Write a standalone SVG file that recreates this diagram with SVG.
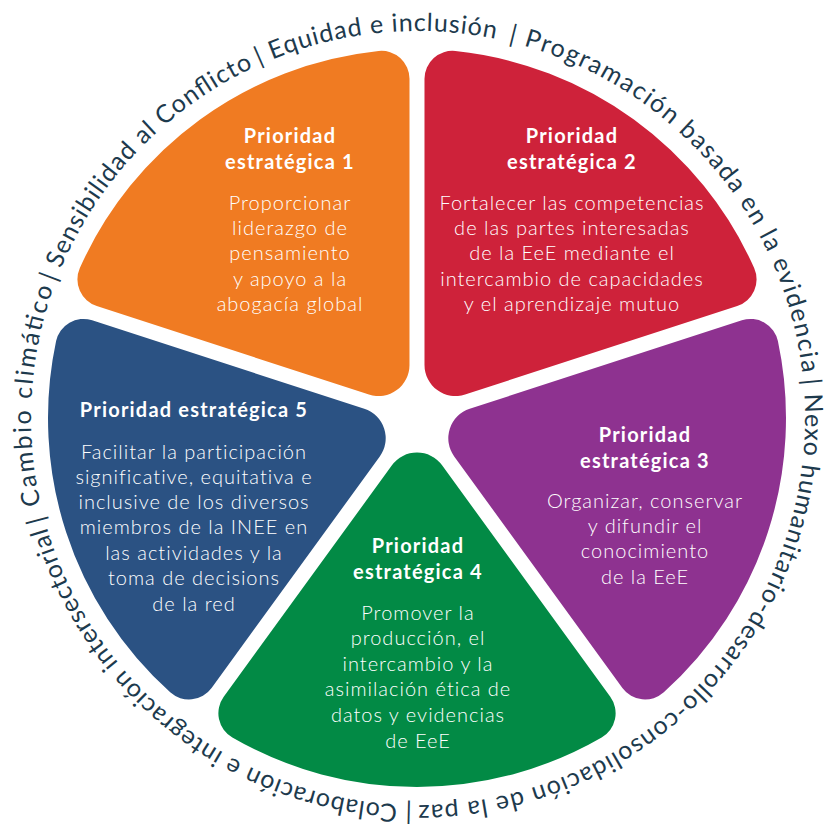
<svg xmlns="http://www.w3.org/2000/svg" xmlns:xlink="http://www.w3.org/1999/xlink" width="828" height="835" viewBox="0 0 828 835">
<defs>
<path id="seg" d="M391.92,370.72 L223.72,139.22 A28,28 0 0,1 232.36,98.52 A369,369 0 0,1 601.64,98.52 A28,28 0 0,1 610.28,139.22 L442.08,370.72 A31,31 0 0,1 391.92,370.72 Z"/>
<path id="ring" d="M501.76,40.17 A387,387 0 1,1 334.24,795.83 A387,387 0 1,1 501.76,40.17"/>
</defs>
<style>
.t{font-family:Lato,"Liberation Sans",sans-serif;fill:#fff;text-anchor:middle}
.h{font-size:20px;font-weight:700;letter-spacing:1.2px}
.b{font-size:20px;font-weight:300;letter-spacing:1px}
.r{font-family:Lato,"Liberation Sans",sans-serif;font-size:25px;fill:#1d3a4d}
</style>
<rect width="828" height="835" fill="#fff"/>
<g id="ring-labels">
<text class="r"><textPath xlink:href="#ring" href="#ring" startOffset="6.75" textLength="471.5" lengthAdjust="spacing">| Programación basada en la evidencia</textPath></text>
<text class="r"><textPath xlink:href="#ring" href="#ring" startOffset="484.3" textLength="646.4" lengthAdjust="spacing">| Nexo humanitario-desarrollo-consolidación de la paz</textPath></text>
<text class="r"><textPath xlink:href="#ring" href="#ring" startOffset="1136.8" textLength="491" lengthAdjust="spacing">| Colaboración e integración intersectorial</textPath></text>
<text class="r"><textPath xlink:href="#ring" href="#ring" startOffset="1633.9" textLength="237.1" lengthAdjust="spacing">| Cambio climático</textPath></text>
<text class="r"><textPath xlink:href="#ring" href="#ring" startOffset="1877" textLength="299.2" lengthAdjust="spacing">| Sensibilidad al Conflicto</textPath></text>
<text class="r"><textPath xlink:href="#ring" href="#ring" startOffset="2182.3" textLength="241.8" lengthAdjust="spacing">| Equidad e inclusión</textPath></text>
</g>
<g id="p1">
<use href="#seg" xlink:href="#seg" fill="#f07b22" transform="rotate(-36 417 418)"/>
<text class="t h" x="290" y="143">Prioridad</text>
<text class="t h" x="290" y="169">estratégica 1</text>
<text class="t b" x="290" y="210">Proporcionar</text>
<text class="t b" x="290" y="235">liderazgo de</text>
<text class="t b" x="290" y="260">pensamiento</text>
<text class="t b" x="290" y="286">y apoyo a la</text>
<text class="t b" x="290" y="311">abogacía global</text>
</g>
<g id="p2">
<use href="#seg" xlink:href="#seg" fill="#ce223a" transform="rotate(36 417 418)"/>
<text class="t h" x="572" y="143">Prioridad</text>
<text class="t h" x="572" y="169">estratégica 2</text>
<text class="t b" x="572" y="210">Fortalecer las competencias</text>
<text class="t b" x="572" y="235">de las partes interesadas</text>
<text class="t b" x="572" y="260">de la EeE mediante el</text>
<text class="t b" x="572" y="286">intercambio de capacidades</text>
<text class="t b" x="572" y="311">y el aprendizaje mutuo</text>
</g>
<g id="p3">
<use href="#seg" xlink:href="#seg" fill="#8e3290" transform="rotate(108 417 418)"/>
<text class="t h" x="645" y="442">Prioridad</text>
<text class="t h" x="645" y="468">estratégica 3</text>
<text class="t b" x="645" y="508">Organizar, conservar</text>
<text class="t b" x="645" y="533">y difundir el</text>
<text class="t b" x="645" y="558">conocimiento</text>
<text class="t b" x="645" y="584">de la EeE</text>
</g>
<g id="p4">
<use href="#seg" xlink:href="#seg" fill="#028a45" transform="rotate(180 417 418)"/>
<text class="t h" x="418" y="553">Prioridad</text>
<text class="t h" x="418" y="579">estratégica 4</text>
<text class="t b" x="418" y="620">Promover la</text>
<text class="t b" x="418" y="645">producción, el</text>
<text class="t b" x="418" y="671">intercambio y la</text>
<text class="t b" x="418" y="696">asimilación ética de</text>
<text class="t b" x="418" y="722">datos y evidencias</text>
<text class="t b" x="418" y="748">de EeE</text>
</g>
<g id="p5">
<use href="#seg" xlink:href="#seg" fill="#2b5283" transform="rotate(252 417 418)"/>
<text class="t h" x="194" y="417">Prioridad estratégica 5</text>
<text class="t b" x="194" y="459">Facilitar la participación</text>
<text class="t b" x="194" y="484">significative, equitativa e</text>
<text class="t b" x="194" y="509">inclusive de los diversos</text>
<text class="t b" x="194" y="534">miembros de la INEE en</text>
<text class="t b" x="194" y="560">las actividades y la</text>
<text class="t b" x="194" y="585">toma de decisions</text>
<text class="t b" x="194" y="611">de la red</text>
</g>
<g id="connectors"/>
</svg>
